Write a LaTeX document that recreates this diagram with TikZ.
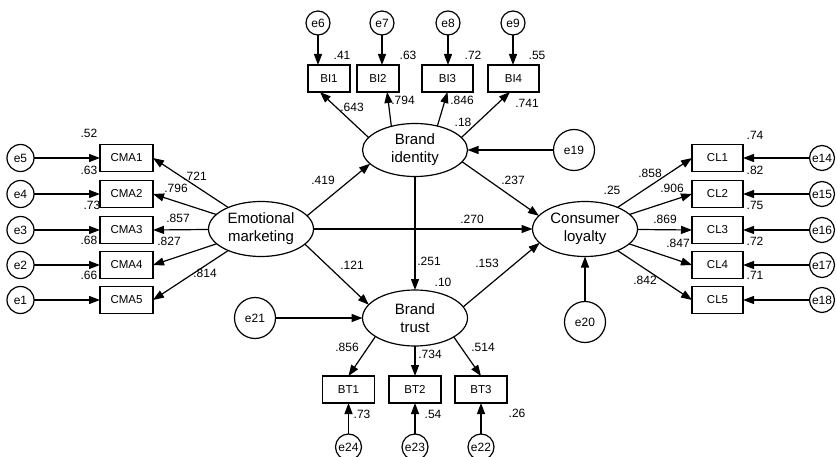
\documentclass[tikz,border=0pt]{standalone}
\usepackage{fontspec}
\setmainfont{Liberation Sans}
\usetikzlibrary{arrows.meta,shapes.geometric}
\begin{document}
\begin{tikzpicture}[x=1pt,y=-1pt,
  lat/.style={draw, ellipse, line width=1.2pt, minimum width=105pt, minimum height=55pt, inner sep=0pt, outer sep=0pt, align=center, font=\fontsize{15}{18}\selectfont},
  obs/.style={draw, rectangle, line width=1.2pt, minimum width=52pt, minimum height=27pt, inner sep=0pt, outer sep=0pt, font=\fontsize{11.5}{13}\selectfont},
  err/.style={draw, circle, line width=1.2pt, minimum size=26pt, inner sep=0pt, outer sep=0pt, font=\fontsize{12}{14}\selectfont},
  errbig/.style={err, minimum size=41pt},
  num/.style={font=\fontsize{12}{14}\selectfont, inner sep=0pt},
  arr/.style={line width=1.2pt, -{Triangle[length=11pt,width=8pt]}}
]
\useasboundingbox (0,0) rectangle (837,457);

% latent variables
\node[lat] (em) at (261,229) {Emotional\\marketing};
\node[lat, minimum height=53pt] (bi) at (415,150) {Brand\\identity};
\node[lat, minimum height=56pt] (bt) at (415,318) {Brand\\trust};
\node[lat] (cl) at (585,229) {Consumer\\loyalty};

% CMA indicators
\node[obs, minimum width=53pt] (cma1) at (126.5,158) {CMA1};
\node[obs, minimum width=53pt] (cma2) at (126.5,194) {CMA2};
\node[obs, minimum width=53pt] (cma3) at (126.5,230) {CMA3};
\node[obs, minimum width=53pt] (cma4) at (126.5,265) {CMA4};
\node[obs, minimum width=53pt] (cma5) at (126.5,300) {CMA5};
\node[err, minimum size=27pt] (e5) at (20.5,158) {e5};
\node[err, minimum size=27pt] (e4) at (20.5,194) {e4};
\node[err, minimum size=27pt] (e3) at (20.5,230) {e3};
\node[err, minimum size=27pt] (e2) at (20.5,265) {e2};
\node[err, minimum size=27pt] (e1) at (20.5,300) {e1};

% BI indicators
\node[obs, minimum width=42pt] (bi1) at (329,78.5) {BI1};
\node[obs, minimum width=42pt] (bi2) at (378,78.5) {BI2};
\node[obs, minimum width=51pt] (bi3) at (447.5,78.5) {BI3};
\node[obs, minimum width=51pt] (bi4) at (513.5,78.5) {BI4};
\node[err, minimum size=24pt] (e6) at (318,23) {e6};
\node[err, minimum size=24pt] (e7) at (382,23) {e7};
\node[err, minimum size=24pt] (e8) at (448,23) {e8};
\node[err, minimum size=24pt] (e9) at (513,23) {e9};

% BT indicators
\node[obs] (bt1) at (348.5,389.5) {BT1};
\node[obs] (bt2) at (415,389.5) {BT2};
\node[obs] (bt3) at (481,389.5) {BT3};
\node[err] (e24) at (348.5,447) {e24};
\node[err] (e23) at (415,447) {e23};
\node[err] (e22) at (481,447) {e22};

% CL indicators
\node[obs, minimum width=51pt] (cl1) at (717.5,158) {CL1};
\node[obs, minimum width=51pt] (cl2) at (717.5,194) {CL2};
\node[obs, minimum width=51pt] (cl3) at (717.5,230) {CL3};
\node[obs, minimum width=51pt] (cl4) at (717.5,265) {CL4};
\node[obs, minimum width=51pt] (cl5) at (717.5,300) {CL5};
\node[err, minimum size=25pt] (e14) at (822,158) {e14};
\node[err, minimum size=25pt] (e15) at (822,194) {e15};
\node[err, minimum size=25pt] (e16) at (822,230) {e16};
\node[err, minimum size=25pt] (e17) at (822,265) {e17};
\node[err, minimum size=25pt] (e18) at (822,300) {e18};

% structural errors
\node[errbig] (e19) at (574,150) {e19};
\node[errbig] (e20) at (585,322) {e20};
\node[errbig] (e21) at (255,318) {e21};

% error arrows
\foreach \e/\o in {e5/cma1,e4/cma2,e3/cma3,e2/cma4,e1/cma5,e14/cl1,e15/cl2,e16/cl3,e17/cl4,e18/cl5}
  \draw[arr] (\e) -- (\o);
\foreach \e/\o in {e6/bi1,e7/bi2,e8/bi3,e9/bi4}
  \draw[arr] (\e) -- (\e |- \o.north);
\foreach \e/\o in {e24/bt1,e23/bt2,e22/bt3}
  \draw[arr] (\e) -- (\e |- \o.south);
\draw[arr] (e19) -- (bi);
\draw[arr] (e20) -- (cl);
\draw[arr] (e21) -- (bt);

% loadings
\foreach \o in {cma1,cma2,cma3,cma4,cma5}
  \draw[arr] (em) -- (\o.east);
\foreach \o in {cl1,cl2,cl3,cl4,cl5}
  \draw[arr] (cl) -- (\o.west);
\draw[arr] (bi.165) -- (bi1.236);
\draw[arr] (bi.135) -- (bi2.-56);
\draw[arr] (bi.47) -- (bi3.south);
\draw[arr] (bi.15) -- (bi4.255);
\draw[arr] (bt.205) -- (bt1.north);
\draw[arr] (bt) -- (bt2);
\draw[arr] (bt.334) -- (bt3.north);

% structural paths
\draw[arr] (em.16) -- (bi.197);
\draw[arr] (em) -- (cl);
\draw[arr] (em.-19) -- (bt.164);
\draw[arr] (bi.-14) -- (cl.164);
\draw[arr] (bi) -- (bt);
\draw[arr] (bt.13) -- (cl.197);

% labels
\node[num] (l1) at (89,133) {.52};
\node[num] (l2) at (89,170) {.63};
\node[num] (l3) at (92,205) {.73};
\node[num] (l4) at (89,240) {.68};
\node[num] (l5) at (89,275) {.66};
\node[num] (l6) at (195,176) {.721};
\node[num] (l7) at (176,188) {.796};
\node[num] (l8) at (178,218) {.857};
\node[num] (l9) at (169,241) {.827};
\node[num] (l10) at (205,273) {.814};
\node[num] (l11) at (342,55) {.41};
\node[num] (l12) at (408,55) {.63};
\node[num] (l13) at (473,55) {.72};
\node[num] (l14) at (537,55) {.55};
\node[num] (l15) at (352,107) {.643};
\node[num] (l16) at (403,100) {.794};
\node[num] (l17) at (462,100) {.846};
\node[num] (l18) at (527,103) {.741};
\node[num] (l19) at (463,122) {.18};
\node[num] (l20) at (323,180) {.419};
\node[num] (l21) at (513,180) {.237};
\node[num] (l22) at (472,219) {.270};
\node[num] (l23) at (429,261) {.251};
\node[num] (l24) at (352,265) {.121};
\node[num] (l25) at (487,263) {.153};
\node[num] (l26) at (443,282) {.10};
\node[num] (l27) at (347,347) {.856};
\node[num] (l28) at (430,354) {.734};
\node[num] (l29) at (483,347) {.514};
\node[num] (l30) at (362,414) {.73};
\node[num] (l31) at (433,414) {.54};
\node[num] (l32) at (517,413) {.26};
\node[num] (l33) at (612,190) {.25};
\node[num] (l34) at (755,135) {.74};
\node[num] (l35) at (755,170) {.82};
\node[num] (l36) at (755,205) {.75};
\node[num] (l37) at (755,241) {.72};
\node[num] (l38) at (755,275) {.71};
\node[num] (l39) at (650,173) {.858};
\node[num] (l40) at (672,188) {.906};
\node[num] (l41) at (665,219) {.869};
\node[num] (l42) at (678,243) {.847};
\node[num] (l43) at (645,280) {.842};
\end{tikzpicture}
\end{document}
